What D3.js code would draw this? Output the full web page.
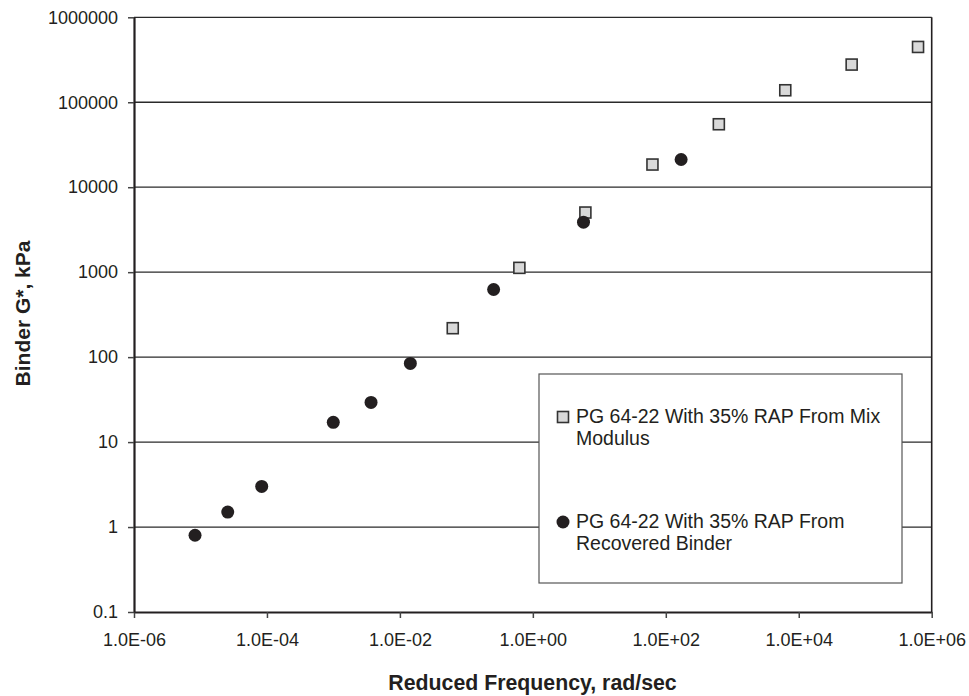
<!DOCTYPE html>
<html>
<head>
<meta charset="utf-8">
<script src="https://cdn.jsdelivr.net/npm/d3@7"></script>
<style>
  html, body { margin: 0; padding: 0; background: #fff; }
  svg { display: block; }
  text { font-family: "Liberation Sans", Arial, Helvetica, sans-serif; fill: #231f20; }
</style>
</head>
<body>
<svg id="chart" width="969" height="696"></svg>
<script>
// ---- Data ----
const mixFreq   = [0.0624, 0.627, 6.17, 63, 628, 6270, 62500, 623000];
const mixGstar  = [219, 1124, 5035, 18490, 55100, 138400, 277700, 447700];
const recFreq   = [8.28e-6, 2.57e-5, 8.34e-5, 9.95e-4, 3.68e-3, 0.01436, 0.257, 5.78, 170];
const recGstar  = [0.80, 1.50, 3.01, 17.1, 29.3, 84.3, 625, 3873, 21180];
const xTickValues = [1e-6, 1e-4, 1e-2, 1e0, 1e2, 1e4, 1e6];
const xTickLabels = ["1.0E-06", "1.0E-04", "1.0E-02", "1.0E+00", "1.0E+02", "1.0E+04", "1.0E+06"];
const yTickValues = [0.1, 1, 10, 100, 1000, 10000, 100000, 1000000];
const yTickLabels = ["0.1", "1", "10", "100", "1000", "10000", "100000", "1000000"];
const seriesNames = [
  ["PG 64-22 With 35% RAP From Mix", "Modulus"],
  ["PG 64-22 With 35% RAP From", "Recovered Binder"]
];
const xTitle = "Reduced Frequency, rad/sec";
const yTitle = "Binder G*, kPa";

// ---- Layout ----
const svg = d3.select("#chart");
const L = 134, T = 17.3, R = 931.7, B = 612;
const x = d3.scaleLog().domain([1e-6, 1e6]).range([L, R]);
const y = d3.scaleLog().domain([0.1, 1e6]).range([B, T]);
const dark = "#231f20";

// gridlines
svg.append("g").selectAll("line").data(yTickValues.filter(v => v > 0.1))
  .join("line")
  .attr("x1", L).attr("x2", R)
  .attr("y1", d => y(d)).attr("y2", d => y(d))
  .attr("stroke", "#2a2a2a").attr("stroke-width", 1.3);

// right border
svg.append("line").attr("x1", R).attr("x2", R).attr("y1", T).attr("y2", B)
  .attr("stroke", dark).attr("stroke-width", 1.6);

// axes
const xAxis = d3.axisBottom(x).tickValues(xTickValues)
  .tickFormat((d, i) => xTickLabels[i]).tickSizeInner(6).tickSizeOuter(0).tickPadding(15);
const yAxis = d3.axisLeft(y).tickValues(yTickValues)
  .tickFormat((d, i) => yTickLabels[i]).tickSizeInner(6).tickSizeOuter(0).tickPadding(10);

const gx = svg.append("g").attr("transform", `translate(0,${B})`).call(xAxis);
const gy = svg.append("g").attr("transform", `translate(${L},0)`).call(yAxis);
[gx, gy].forEach(g => {
  g.select(".domain").attr("stroke", dark).attr("stroke-width", 2.2);
  g.selectAll(".tick line").attr("stroke", "#444").attr("stroke-width", 1.5);
  g.selectAll(".tick text").attr("fill", dark)
    .style("font-family", '"Liberation Sans", Arial, sans-serif').style("font-size", "18px");
});

// legend box
const lg = svg.append("g");
lg.append("rect").attr("x", 539).attr("y", 374).attr("width", 363).attr("height", 209)
  .attr("fill", "#fff").attr("stroke", "#555").attr("stroke-width", 1.2);

// data points
const sq = 11;
svg.append("g").selectAll("rect").data(mixFreq.map((f, i) => [f, mixGstar[i]]))
  .join("rect")
  .attr("x", d => x(d[0]) - sq / 2).attr("y", d => y(d[1]) - sq / 2)
  .attr("width", sq).attr("height", sq)
  .attr("fill", "#d9d9d9").attr("stroke", "#333").attr("stroke-width", 1.6);

svg.append("g").selectAll("circle").data(recFreq.map((f, i) => [f, recGstar[i]]))
  .join("circle")
  .attr("cx", d => x(d[0])).attr("cy", d => y(d[1])).attr("r", 6.5)
  .attr("fill", dark);

// legend entries
lg.append("rect").attr("x", 563 - sq / 2).attr("y", 417 - sq / 2).attr("width", sq).attr("height", sq)
  .attr("fill", "#d9d9d9").attr("stroke", "#333").attr("stroke-width", 1.6);
lg.append("circle").attr("cx", 563).attr("cy", 522).attr("r", 6.5).attr("fill", dark);
const legendY = [423.3, 528.3];
seriesNames.forEach((lines, i) => {
  const t = lg.append("text").attr("x", 576).attr("y", legendY[i]).style("font-size", "19.5px");
  lines.forEach((ln, j) => {
    t.append("tspan").attr("x", 576).attr("dy", j === 0 ? 0 : 22).text(ln);
  });
});

// axis titles
svg.append("text").attr("x", 532.5).attr("y", 690).attr("text-anchor", "middle")
  .style("font-size", "21.3px").style("font-weight", "bold").text(xTitle);
svg.append("text").attr("transform", "translate(30,313.5) rotate(-90)").attr("text-anchor", "middle")
  .style("font-size", "21px").style("font-weight", "bold").text(yTitle);
</script>
</body>
</html>
